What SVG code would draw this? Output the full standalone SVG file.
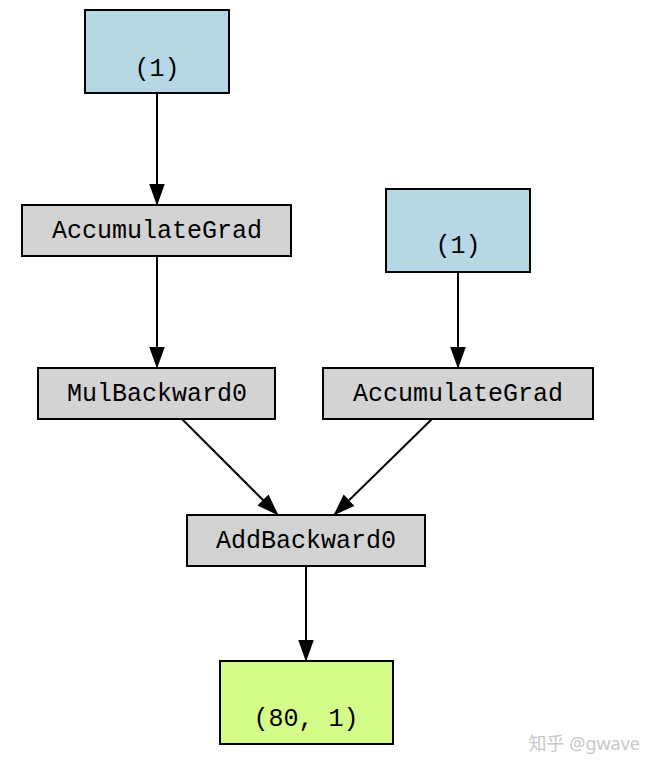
<svg xmlns="http://www.w3.org/2000/svg" width="658" height="774" viewBox="0 0 658 774">
<style>
rect{stroke:#000;stroke-width:2}
.t{font-family:"Liberation Mono",monospace;font-size:25px;text-anchor:middle}
.c line{stroke:#000;stroke-width:2}
</style>
<defs><marker id="a" markerUnits="userSpaceOnUse" markerWidth="22" markerHeight="28" refX="27" refY="10" orient="auto" viewBox="0 0 28 20"><path d="M0,0L28,10L0,20Z" fill="#000"/></marker></defs>
<rect width="658" height="774" fill="#fff" style="stroke:none"/>
<g class="c">
<line x1="157" y1="93" x2="157" y2="205" marker-end="url(#a)"/>
<line x1="157" y1="256" x2="157" y2="368" marker-end="url(#a)"/>
<line x1="458" y1="272" x2="458" y2="368" marker-end="url(#a)"/>
<line x1="182" y1="419" x2="278" y2="515" marker-end="url(#a)"/>
<line x1="432" y1="419" x2="334" y2="515" marker-end="url(#a)"/>
<line x1="306" y1="566" x2="306" y2="661" marker-end="url(#a)"/>
</g>
<g id="n1"><rect x="85" y="10" width="144" height="83" fill="#b5d8e4"/><text class="t" x="157" y="76">(1)</text></g>
<g id="n2"><rect x="22" y="205" width="269" height="51" fill="#d3d3d3"/><text class="t" x="157" y="238">AccumulateGrad</text></g>
<g id="n3"><rect x="386" y="189" width="144" height="83" fill="#b5d8e4"/><text class="t" x="458" y="253">(1)</text></g>
<g id="n4"><rect x="38" y="368" width="237" height="51" fill="#d3d3d3"/><text class="t" x="157" y="401">MulBackward0</text></g>
<g id="n5"><rect x="323" y="368" width="270" height="51" fill="#d3d3d3"/><text class="t" x="458" y="401">AccumulateGrad</text></g>
<g id="n6"><rect x="187" y="515" width="238" height="51" fill="#d3d3d3"/><text class="t" x="306" y="548">AddBackward0</text></g>
<g id="n7"><rect x="220" y="661" width="173" height="83" fill="#d4fc88"/><text class="t" x="306" y="726">(80, 1)</text></g>
<text x="640" y="750" style="font-family:'Noto Sans','Noto Sans CJK SC',sans-serif;font-size:18px;fill:#c8c8c8;text-anchor:end">知乎 @gwave</text>
</svg>
